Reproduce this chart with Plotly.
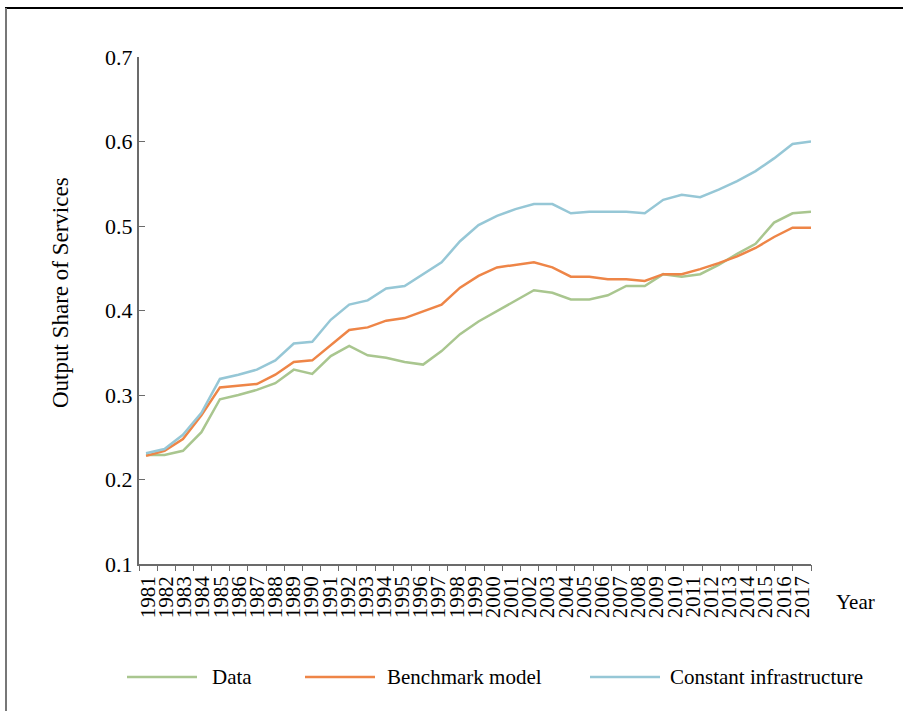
import plotly.graph_objects as go

# Output share of services, 1981-2017
years = [str(y) for y in range(1981, 2018)]

data_share = [0.229, 0.229, 0.234, 0.256, 0.295, 0.300, 0.306, 0.314, 0.330, 0.325,
              0.346, 0.358, 0.347, 0.344, 0.339, 0.336, 0.352, 0.372, 0.387, 0.399,
              0.412, 0.424, 0.421, 0.413, 0.413, 0.418, 0.429, 0.429, 0.443, 0.440,
              0.443, 0.454, 0.467, 0.479, 0.504, 0.515, 0.517]

benchmark = [0.228, 0.234, 0.248, 0.276, 0.309, 0.311, 0.313, 0.324, 0.339, 0.341,
             0.359, 0.377, 0.380, 0.388, 0.391, 0.399, 0.407, 0.427, 0.441, 0.451,
             0.454, 0.457, 0.451, 0.440, 0.440, 0.437, 0.437, 0.435, 0.443, 0.443,
             0.449, 0.456, 0.464, 0.474, 0.487, 0.498, 0.498]

constant_infra = [0.231, 0.236, 0.253, 0.279, 0.319, 0.324, 0.330, 0.341, 0.361, 0.363,
                  0.389, 0.407, 0.412, 0.426, 0.429, 0.443, 0.457, 0.482, 0.501, 0.512,
                  0.520, 0.526, 0.526, 0.515, 0.517, 0.517, 0.517, 0.515, 0.531, 0.537,
                  0.534, 0.543, 0.553, 0.565, 0.580, 0.597, 0.600]

series_names = ["Data", "Benchmark model", "Constant infrastructure"]
series_colors = ["#A9C68F", "#EE8547", "#96C7D6"]
y_ticks = [0.1, 0.2, 0.3, 0.4, 0.5, 0.6, 0.7]

FONT = "Liberation Serif"
AXIS_COLOR = "#6b6b6b"

# plot area in pixels (for placing decorations in paper coordinates)
W, H = 907, 711
L, R, T, B = 139, 96, 57, 147
PW, PH = W - L - R, H - T - B


def px(x):
    return (x - L) / PW


def py(y):
    return (H - B - y) / PH


fig = go.Figure()
for name, vals, col in zip(series_names, [data_share, benchmark, constant_infra], series_colors):
    fig.add_trace(go.Scatter(x=years, y=vals, mode="lines", name=name,
                             line=dict(color=col, width=2.5), showlegend=False))

# empty trace so the year-label axis is rendered
fig.add_trace(go.Scatter(x=[], y=[], xaxis="x2", yaxis="y", mode="lines",
                         showlegend=False, hoverinfo="skip"))

n = len(years)
fig.update_layout(
    width=W, height=H,
    margin=dict(l=L, r=R, t=T, b=B, pad=0),
    paper_bgcolor="white", plot_bgcolor="white",
    font=dict(family=FONT, color="black"),
    # axis carrying the series: lines run from the first category to the right edge
    xaxis=dict(type="category", range=[-0.38, n - 1], showgrid=False,
               showline=True, linecolor=AXIS_COLOR, linewidth=2,
               ticks="", showticklabels=False),
    # axis carrying the year labels, centred between boundary ticks
    xaxis2=dict(overlaying="x", anchor="y", side="bottom", range=[-0.5, n - 0.5],
                type="linear", showgrid=False, zeroline=False, showline=False,
                tickmode="array", tickvals=list(range(n)), ticktext=years,
                ticks="", tickangle=-90, ticklabelstandoff=7,
                minor=dict(ticks="outside", ticklen=6, tickwidth=1, tickcolor=AXIS_COLOR,
                           tick0=-0.5, dtick=1, showgrid=False),
                tickfont=dict(family=FONT, size=21, color="black")),
    yaxis=dict(range=[0.1, 0.7], tickvals=y_ticks, tickformat=".1f", showgrid=False,
               zeroline=False, showline=True, linecolor=AXIS_COLOR, linewidth=2,
               ticks="inside", ticklen=6, tickcolor=AXIS_COLOR, tickwidth=1,
               tickfont=dict(family=FONT, size=22, color="black")),
)

# y-axis title
fig.add_annotation(xref="paper", yref="paper", x=px(60), y=py(293), text="Output Share of Services",
                   showarrow=False, textangle=-90, xanchor="center", yanchor="middle",
                   font=dict(family=FONT, size=23, color="black"))

# "Year" label at the end of the category axis
fig.add_annotation(xref="paper", yref="paper", x=px(834), y=py(602), text="Year",
                   showarrow=False, xanchor="left", yanchor="middle",
                   font=dict(family=FONT, size=21, color="black"))

# outer frame: top and left edges
fig.add_shape(type="line", xref="paper", yref="paper", x0=px(5), x1=px(903), y0=py(8), y1=py(8),
              line=dict(color="black", width=2))
fig.add_shape(type="line", xref="paper", yref="paper", x0=px(6), x1=px(6), y0=py(8), y1=py(712),
              line=dict(color="#777777", width=2))

# legend row
legend_pos = [(127, 197, 210), (305, 375, 385), (590, 660, 668)]
for (x0, x1, xt), name, col in zip(legend_pos, series_names, series_colors):
    fig.add_shape(type="line", xref="paper", yref="paper", x0=px(x0), x1=px(x1),
                  y0=py(677), y1=py(677), line=dict(color=col, width=2.5))
    fig.add_annotation(xref="paper", yref="paper", x=px(xt), y=py(677), text=name,
                       showarrow=False, xanchor="left", yanchor="middle",
                       font=dict(family=FONT, size=21, color="black"))

fig.write_html("out.html")
